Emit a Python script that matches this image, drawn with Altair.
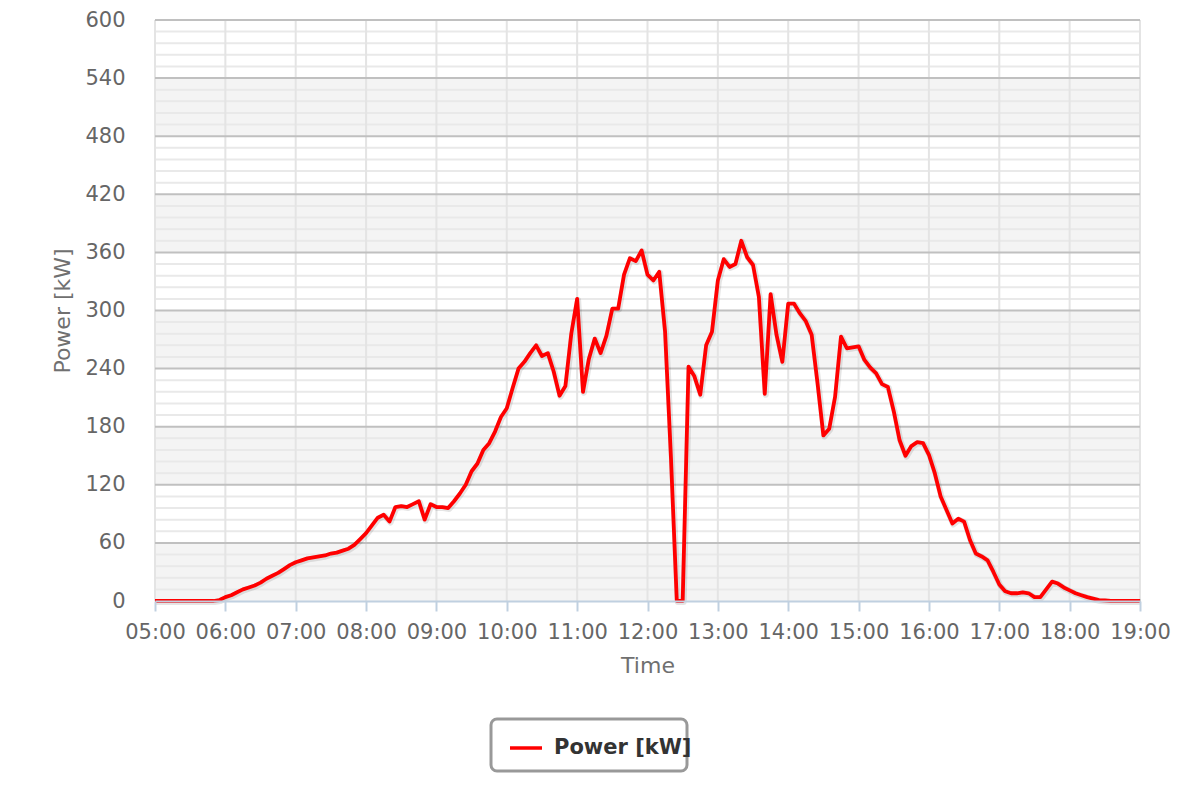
import altair as alt
import pandas as pd

# ---- data (5-minute samples, 05:00 .. 19:00) ----
start_hour = 5
step_minutes = 5
power_05 = [0, 0, 0, 0, 0, 0, 0, 0, 0, 0, 0, 1]
power_06 = [4, 6, 9, 12, 14, 16, 19, 23, 26, 29, 33, 37]
power_07 = [40, 42, 44, 45, 46, 47, 49, 50, 52, 54, 58, 64]
power_08 = [70, 78, 86, 89, 82, 97, 98, 97, 100, 103, 84, 100]
power_09 = [97, 97, 96, 103, 111, 120, 134, 142, 156, 163, 175, 190]
power_10 = [199, 220, 240, 247, 256, 264, 253, 256, 237, 212, 222, 276]
power_11 = [312, 216, 250, 271, 256, 274, 302, 302, 337, 354, 351, 362]
power_12 = [337, 331, 340, 278, 148, 0, 0, 242, 232, 213, 264, 278]
power_13 = [331, 353, 345, 348, 372, 355, 347, 314, 214, 317, 275, 247]
power_14 = [307, 307, 297, 289, 275, 225, 171, 178, 211, 273, 261, 262]
power_15 = [263, 249, 241, 235, 224, 221, 196, 166, 150, 160, 164, 163]
power_16 = [151, 132, 108, 94, 80, 85, 82, 63, 49, 46, 42, 30]
power_17 = [17, 10, 8, 8, 9, 8, 4, 4, 12, 20, 18, 14]
power_18 = [11, 8, 6, 4, 2.5, 1, 0.5, 0, 0, 0, 0, 0]
power_19 = [0]

series_name = "Power [kW]"
hour_ticks = list(range(5, 20))
y_ticks = [0, 60, 120, 180, 240, 300, 360, 420, 480, 540, 600]
y_minor = [v for v in range(0, 601, 12) if v % 60 != 0]
band_lo = [0, 120, 240, 360, 480]
band_hi = [60, 180, 300, 420, 540]

power = (power_05 + power_06 + power_07 + power_08 + power_09 + power_10 + power_11
         + power_12 + power_13 + power_14 + power_15 + power_16 + power_17 + power_18 + power_19)
hours = [start_hour + i * step_minutes / 60 for i in range(len(power))]
df = pd.DataFrame({"h": hours, "p": power, "series": series_name})
bands = pd.DataFrame({"lo": band_lo, "hi": band_hi})
minor = pd.DataFrame({"v": y_minor})
major = pd.DataFrame({"v": [v for v in y_ticks if v != 0]})
vgrid = pd.DataFrame({"h": hour_ticks})

W, H = 985, 581
FONT = "DejaVu Sans"

xscale = alt.Scale(domain=[5, 19], nice=False, zero=False)
yscale = alt.Scale(domain=[0, 600], nice=False)
xaxis = alt.Axis(values=hour_ticks, labelExpr="(datum.value < 10 ? '0' : '') + datum.value + ':00'",
                 grid=False, domainColor="#c0d0e0", domainWidth=2, tickColor="#c0d0e0",
                 tickWidth=2, tickSize=10, labelPadding=10, labelFontSize=21, labelColor="#666666",
                 labelFont=FONT, title="Time", titleFontSize=22, titleFontWeight="normal",
                 titleColor="#707070", titleFont=FONT, titlePadding=13, zindex=1,
                 labelOverlap=False, labelFlush=False)
yaxis = alt.Axis(values=y_ticks, grid=False, domain=False, ticks=False, labelPadding=30,
                 labelFontSize=21, labelColor="#666666", labelFont=FONT, title="Power [kW]",
                 titleFontSize=22, titleFontWeight="normal", titleColor="#707070",
                 titleFont=FONT, titlePadding=10)


def X(field):
    return alt.X(f"{field}:Q", scale=xscale, axis=xaxis)


def Y(field):
    return alt.Y(f"{field}:Q", scale=yscale, axis=yaxis)


band_layer = alt.Chart(bands).mark_rect(color="#f4f4f4").encode(
    y=Y("lo"), y2="hi:Q", x=alt.value(0), x2=alt.value(W))
minor_layer = alt.Chart(minor).mark_rule(color="#e9e9e9", strokeWidth=2).encode(
    y=Y("v"), x=alt.value(0), x2=alt.value(W))
vgrid_layer = alt.Chart(vgrid).mark_rule(color="#e4e4e4", strokeWidth=2).encode(
    x=X("h"), y=alt.value(0), y2=alt.value(H))
major_layer = alt.Chart(major).mark_rule(color="#c0c0c0", strokeWidth=2).encode(
    y=Y("v"), x=alt.value(0), x2=alt.value(W))
shadow_layer = alt.Chart(df).mark_line(color="black", opacity=0.1, strokeWidth=6,
                                      xOffset=1, yOffset=1, strokeJoin="round").encode(
    x=X("h"), y=Y("p"))
# rounded frame behind the legend (legend box decoration)
legend_frame = alt.Chart(df.head(1)).mark_rect(fill="white", stroke="#999999", strokeWidth=3,
                                               cornerRadius=6).encode(
    x=alt.value(336), x2=alt.value(532), y=alt.value(699), y2=alt.value(751))
line_layer = alt.Chart(df).mark_line(strokeWidth=3.8, strokeJoin="round").encode(
    x=X("h"), y=Y("p"),
    color=alt.Color("series:N", scale=alt.Scale(range=["#ff0000"]),
                    legend=alt.Legend(title=None, orient="none", legendX=336, legendY=693,
                                      symbolType="stroke", symbolSize=1024,
                                      symbolStrokeWidth=3.5, labelFontSize=21,
                                      labelFontWeight="bold", labelColor="#333333",
                                      labelFont=FONT, labelOffset=10, padding=17)))

chart = alt.layer(band_layer, minor_layer, vgrid_layer, major_layer, legend_frame,
                  shadow_layer, line_layer).properties(
    width=W, height=H,
    autosize=alt.AutoSizeParams(type="none"),
    padding={"left": 147, "top": 12, "right": 52, "bottom": 191},
    background="white",
).configure_view(stroke=None).configure(font=FONT)

chart.save("out.html", embed_options={"renderer": "svg", "actions": False})
